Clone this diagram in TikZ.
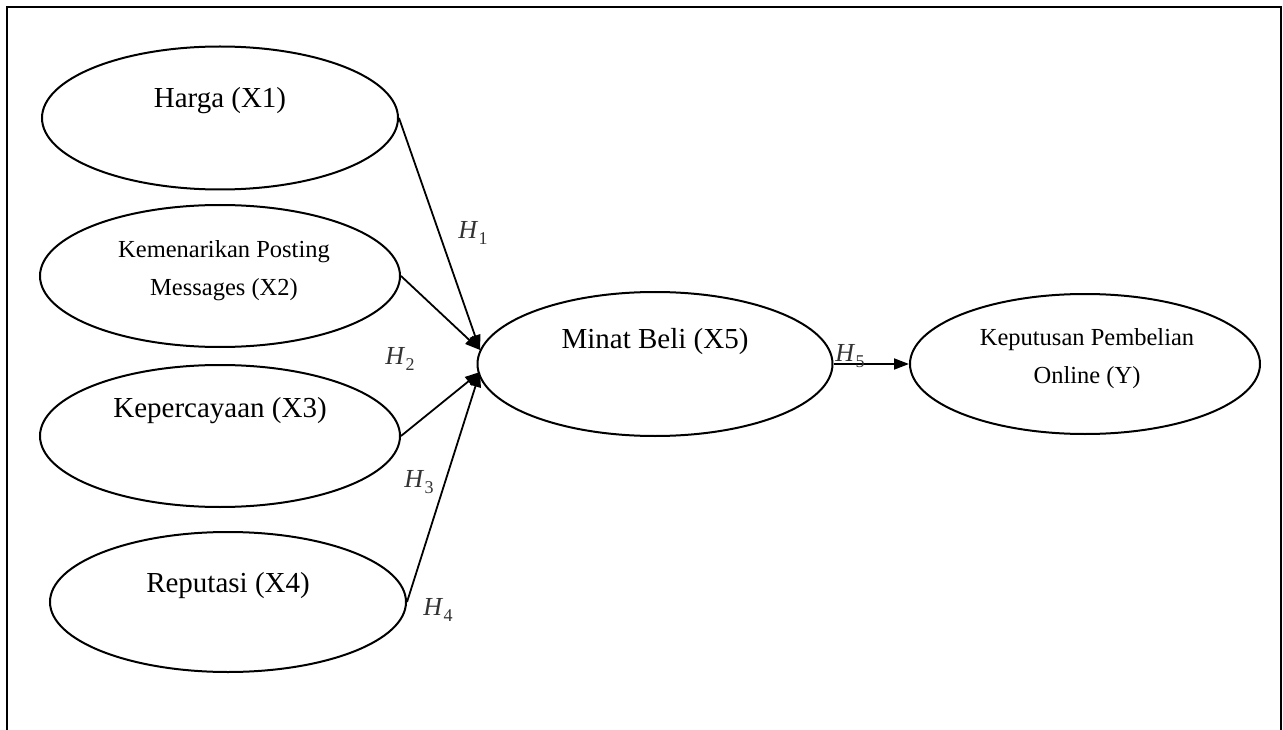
\documentclass[tikz,border=0pt]{standalone}
\usepackage{fontspec}
\setmainfont{Liberation Serif}
\usetikzlibrary{arrows.meta,shapes.geometric}
\definecolor{hypgray}{HTML}{333333}
% hypothesis label: italic H with an upright subscript digit
\newcommand{\hlabel}[1]{\textit{H}\kern0.5pt\raisebox{-6pt}{\fontsize{18}{18}\selectfont #1}}
\begin{document}
\begin{tikzpicture}[x=1pt,y=-1pt,
  construct/.style={draw,line width=2pt,ellipse,inner sep=0pt},
  bigtext/.style={font=\fontsize{29}{34}\selectfont,anchor=base},
  smalltext/.style={font=\fontsize{24.5}{38}\selectfont,align=center,anchor=base},
  link/.style={line width=1.8pt,-{Triangle[length=15pt,width=11pt]}},
  hyp/.style={text=hypgray,font=\fontsize{26}{28}\selectfont,inner sep=0pt}
]
\useasboundingbox (0,0) rectangle (1283,730);
% outer frame (open at the bottom)
\draw[line width=2pt] (7,731) -- (7,7) -- (1281,7) -- (1281,731);

% constructs
\node[construct,minimum width=356pt,minimum height=143pt] (harga) at (220,118) {};
\node[construct,minimum width=360pt,minimum height=142pt] (posting) at (220,276) {};
\node[construct,minimum width=360pt,minimum height=142pt] (percaya) at (220,436) {};
\node[construct,minimum width=356pt,minimum height=140pt] (reputasi) at (228,602) {};
\node[construct,minimum width=355pt,minimum height=144pt] (minat) at (655,364) {};
\node[construct,minimum width=350pt,minimum height=140pt] (putusan) at (1085,364) {};

% construct labels (base anchor of a two-line node is its last line)
\node[bigtext] (tharga) at (220,108) {Harga (X1)};
\node[smalltext] (tposting) at (224,295) {Kemenarikan Posting\\Messages (X2)};
\node[bigtext] (tpercaya) at (220,417) {Kepercayaan (X3)};
\node[bigtext] (treputasi) at (228,592) {Reputasi (X4)};
\node[bigtext] (tminat) at (655,348) {Minat Beli (X5)};
\node[smalltext] (tputusan) at (1087,383) {Keputusan Pembelian\\Online (Y)};

% arrow tips on the left side of Minat Beli
\coordinate (inU) at (480,350);
\coordinate (inL) at (480,372);

% hypothesised paths
\draw[link] (harga.east) -- (inU);
\draw[link] (posting.east) -- (inU);
\draw[link] (percaya.east) -- (inL);
\draw[link] (reputasi.east) -- (inL);
\draw[link] (minat.east) -- (putusan.west);

% path labels
\node[hyp] (h1) at (473,233) {\hlabel{1}};
\node[hyp] (h2) at (400,359) {\hlabel{2}};
\node[hyp] (h3) at (419,482) {\hlabel{3}};
\node[hyp] (h4) at (438,610) {\hlabel{4}};
\node[hyp] (h5) at (850,356) {\hlabel{5}};
\end{tikzpicture}
\end{document}
